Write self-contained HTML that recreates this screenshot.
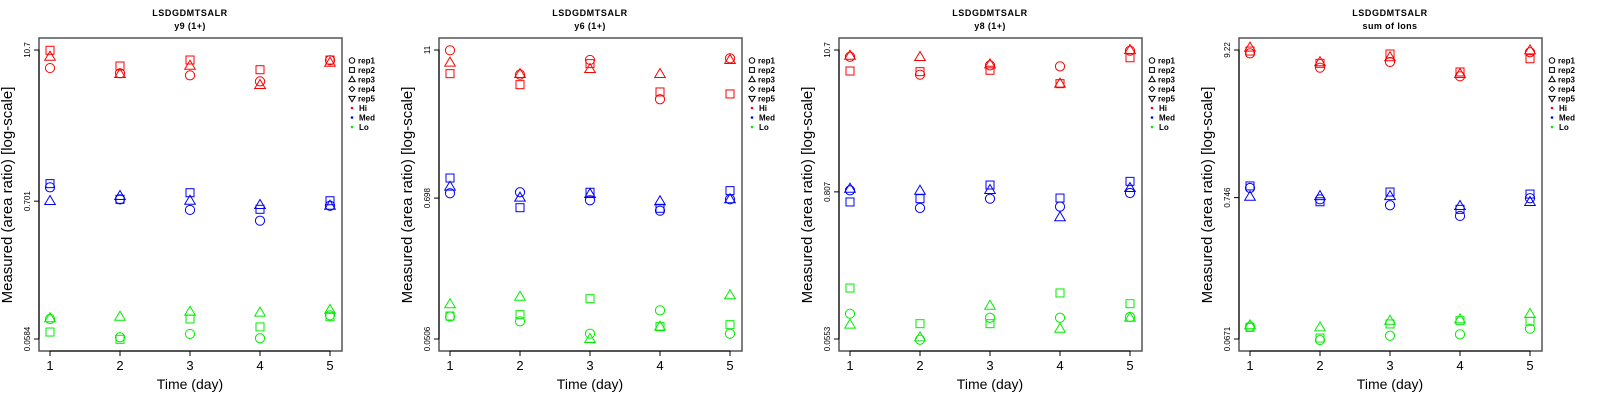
<!DOCTYPE html>
<html><head><meta charset="utf-8"><style>
html,body{margin:0;padding:0;background:#fff;}
svg{display:block;font-family:"Liberation Sans",sans-serif;}
</style></head><body>
<svg id="chart" width="1600" height="400" viewBox="0 0 1600 400" xmlns="http://www.w3.org/2000/svg"></svg>
<script>
// data: log10 of measured area ratio; series per color group & replicate, days 1..5
const days = [1, 2, 3, 4, 5];
const panelTitles = ["y9 (1+)", "y6 (1+)", "y8 (1+)", "sum of Ions"];
const tickLabels = [["10.7","0.701","0.0584"],["11","0.698","0.0506"],["10.7","0.807","0.0553"],["9.22","0.746","0.0671"]];
const tickValues = [[10.7,0.701,0.0584],[11,0.698,0.0506],[10.7,0.807,0.0553],[9.22,0.746,0.0671]];
const groupNames = ["Hi","Med","Lo"];
const repNames = ["rep1","rep2","rep3","rep4","rep5"];
// panel 1
const p1Hi  = [[0.888,0.847,0.831,0.784,0.949],[1.027,0.904,0.951,0.875,0.951],[0.977,0.841,0.906,0.755,0.930]];
const p1Med = [[-0.046,-0.140,-0.223,-0.307,-0.190],[-0.017,-0.140,-0.088,-0.218,-0.151],[-0.153,-0.114,-0.151,-0.184,-0.190]];
const p1Lo  = [[-1.077,-1.220,-1.194,-1.228,-1.048],[-1.179,-1.236,-1.077,-1.139,-1.059],[-1.071,-1.059,-1.020,-1.027,-1.006]];
// panel 2
const p2Hi  = [[1.039,0.842,0.961,0.643,0.974],[0.850,0.761,0.931,0.702,0.686],[0.939,0.847,0.888,0.847,0.961]];
const p2Med = [[-0.117,-0.109,-0.174,-0.258,-0.166],[0.006,-0.234,-0.109,-0.239,-0.096],[-0.064,-0.153,-0.123,-0.182,-0.166]];
const p2Lo  = [[-1.115,-1.153,-1.253,-1.064,-1.253],[-1.110,-1.099,-0.970,-1.196,-1.180],[-1.015,-0.954,-1.296,-1.196,-0.942]];
// panel 3
const p3Hi  = [[0.976,0.834,0.908,0.900,1.024],[0.863,0.858,0.869,0.763,0.968],[0.984,0.974,0.916,0.763,1.029]];
const p3Med = [[-0.081,-0.221,-0.147,-0.210,-0.102],[-0.173,-0.147,-0.039,-0.142,-0.010],[-0.068,-0.084,-0.078,-0.294,-0.063]];
const p3Lo  = [[-1.057,-1.263,-1.089,-1.089,-1.083],[-0.854,-1.136,-1.136,-0.893,-0.978],[-1.144,-1.244,-0.994,-1.176,-1.089]];
// panel 4
const p4Hi  = [[0.940,0.834,0.876,0.770,0.948],[0.957,0.866,0.935,0.802,0.900],[0.982,0.874,0.911,0.787,0.962]];
const p4Med = [[-0.056,-0.140,-0.184,-0.263,-0.132],[-0.041,-0.158,-0.086,-0.214,-0.101],[-0.121,-0.116,-0.116,-0.189,-0.160]];
const p4Lo  = [[-1.082,-1.181,-1.149,-1.139,-1.097],[-1.087,-1.166,-1.062,-1.038,-1.042],[-1.072,-1.087,-1.038,-1.028,-0.988]];

const panels = [[p1Hi,p1Med,p1Lo],[p2Hi,p2Med,p2Lo],[p3Hi,p3Med,p3Lo],[p4Hi,p4Med,p4Lo]];
const colors = ["#ff0000","#0000ff","#00ee00"];
const NS = "http://www.w3.org/2000/svg";
const svg = document.getElementById("chart");
function mk(tag, attrs, parent, text){
  const e = document.createElementNS(NS, tag);
  for (const k in attrs) e.setAttribute(k, attrs[k]);
  if (text !== undefined) e.textContent = text;
  (parent||svg).appendChild(e);
  return e;
}
function marker(shape, cx, cy, color, parent, s){
  s = s || 1;
  let e;
  if (shape === 0) e = mk("circle",{cx:cx,cy:cy,r:4.6*s,fill:"none",stroke:color,"stroke-width":1},parent);
  else if (shape === 1) e = mk("rect",{x:cx-4*s,y:cy-4*s,width:8*s,height:8*s,fill:"none",stroke:color,"stroke-width":1},parent);
  else if (shape === 2) e = mk("polygon",{points:`${cx},${cy-5.5*s} ${cx-5.3*s},${cy+3.5*s} ${cx+5.3*s},${cy+3.5*s}`,fill:"none",stroke:color,"stroke-width":1},parent);
  else if (shape === 3) e = mk("polygon",{points:`${cx},${cy-4.5*s} ${cx+4.5*s},${cy} ${cx},${cy+4.5*s} ${cx-4.5*s},${cy}`,fill:"none",stroke:color,"stroke-width":1},parent);
  else e = mk("polygon",{points:`${cx},${cy+5.5*s} ${cx-5.3*s},${cy-3.5*s} ${cx+5.3*s},${cy-3.5*s}`,fill:"none",stroke:color,"stroke-width":1},parent);
  return e;
}

panels.forEach((groups, p) => {
  const ox = p * 400;
  const g = mk("g", {});
  
  
  const boxL = ox + 39, boxR = ox + 342, boxT = 38, boxB = 351;
  const yTop = 50, yBot = 339;
  const lTop = Math.log10(tickValues[p][0]), lBot = Math.log10(tickValues[p][2]);
  const yScale = L => yTop + (lTop - L) / (lTop - lBot) * (yBot - yTop);
  const xScale = d => ox + 50 + (d - 1) * 70;

  const t1 = mk("text",{x:ox+190,y:16,"text-anchor":"middle","font-size":"9","font-weight":"bold","letter-spacing":"0.6"},g,"LSDGDMTSALR");
  
  
  const t2 = mk("text",{x:ox+190,y:29,"text-anchor":"middle","font-size":"9","font-weight":"bold","letter-spacing":"0.4"},g,panelTitles[p]);
  
  

  const box = mk("rect",{x:boxL,y:boxT,width:boxR-boxL,height:boxB-boxT,fill:"none",stroke:"#555","stroke-width":1.5},g);
  
  

  const xa = mk("g",{},g);
  
  
  mk("line",{x1:xScale(1),x2:xScale(5),y1:boxB,y2:boxB,stroke:"#000","stroke-width":1},xa);
  days.forEach(d => {
    mk("line",{x1:xScale(d),x2:xScale(d),y1:boxB,y2:boxB+5,stroke:"#000","stroke-width":1},xa);
    const tl = mk("text",{x:xScale(d),y:370,"text-anchor":"middle","font-size":"13"},xa,String(d));
    
    
  });
  const xt = mk("text",{x:ox+190,y:389,"text-anchor":"middle","font-size":"14"},g,"Time (day)");
  
  

  const ya = mk("g",{},g);
  
  
  mk("line",{x1:boxL,x2:boxL,y1:yTop,y2:yBot,stroke:"#000","stroke-width":1},ya);
  tickValues[p].forEach((v, i) => {
    const y = yScale(Math.log10(v));
    mk("line",{x1:boxL-5,x2:boxL,y1:y,y2:y,stroke:"#000","stroke-width":1},ya);
    const tl = mk("text",{x:0,y:0,"text-anchor":"middle","font-size":"8",transform:`translate(${ox+30},${y}) rotate(-90)`},ya,tickLabels[p][i]);
    
    
  });
  const yt = mk("text",{x:0,y:0,"text-anchor":"middle","font-size":"15",transform:`translate(${ox+12},195) rotate(-90)`},g,"Measured (area ratio) [log-scale]");
  
  

  groups.forEach((reps, gi) => {
    reps.forEach((vals, ri) => {
      vals.forEach((L, di) => {
        const m = marker(ri, xScale(days[di]), yScale(L), colors[gi], g);
        
        
      });
    });
  });

  const lg = mk("g",{},g);
  
  
  const rowsY = [60.5,70,79.5,89,98.5,108,117.5,127];
  repNames.forEach((r, i) => {
    const e = mk("g",{},lg);
    
    
    marker(i, ox+352, rowsY[i], "#000", e, 0.6);
    mk("text",{x:ox+358,y:rowsY[i]+3,"font-size":"8","font-weight":"bold"},e,r);
  });
  groupNames.forEach((n, i) => {
    const e = mk("g",{},lg);
    
    
    mk("circle",{cx:ox+352,cy:rowsY[5+i],r:1.3,fill:colors[i]},e);
    mk("text",{x:ox+359,y:rowsY[5+i]+3,"font-size":"8","font-weight":"bold"},e,n);
  });
});
</script>
</body></html>
